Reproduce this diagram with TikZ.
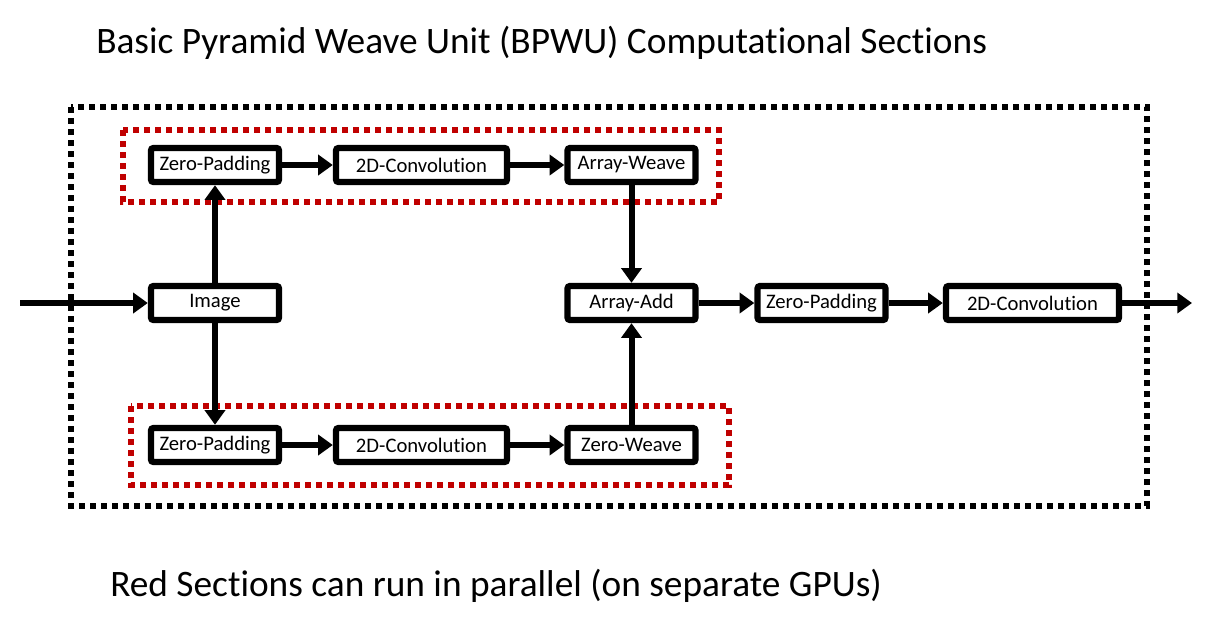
\documentclass[tikz,border=0pt]{standalone}
\usepackage{fontspec}
\setmainfont[Ligatures=NoCommon]{Carlito}
\usepackage{xcolor}
\usetikzlibrary{arrows.meta,positioning}
\definecolor{secred}{HTML}{C00000}
\tikzset{
  opnode/.style={draw=black, line width=4.8pt, rounded corners=2pt, fill=white,
               minimum height=25.5pt, minimum width=#1, inner sep=0pt, font=\fontsize{15.5}{18}\selectfont},
  opnode/.default=96pt,
  flow/.style={-{Triangle[length=11pt,width=15pt]}, line width=4.5pt},
  unitbox/.style={draw=black, line width=4.5pt, dash pattern=on 4.5pt off 3.75pt},
  sectionbox/.style={draw=secred, line width=4.5pt, dash pattern=on 4.5pt off 3.75pt},
  caption/.style={anchor=base west, inner sep=0pt, font=\fontsize{28}{33}\selectfont},
}
\def\cA{215}
\def\cB{421.5}
\def\cC{631.5}
\def\cD{821.5}
\def\cE{1032.5}
\def\yT{165}
\def\yM{303}
\def\yB{445}

\begin{document}
\begin{tikzpicture}[x=0.75pt, y=-0.75pt]
  \useasboundingbox (0,0) rectangle (1210,626);
  \node[caption] (title) at (96,53) {Basic Pyramid Weave Unit (BPWU) Computational Sections};
  \node[caption] (note) at (110,596) {Red Sections can run in parallel (on separate GPUs)};
  \draw[unitbox] (71,107) rectangle (1147,506);
  \draw[sectionbox] (123,130) rectangle (719,202);
  \draw[sectionbox] (131,406) rectangle (729,485);
  \node[opnode] (img) at (\cA,\yM) {Image};
  \node[opnode] (zpt) at (\cA,\yT) {Zero-Padding};
  \node[opnode=128.25pt] (cvt) at (\cB,\yT) {2D-Convolution};
  \node[opnode] (aw) at (\cC,\yT) {Array-Weave};
  \node[opnode] (zpb) at (\cA,\yB) {Zero-Padding};
  \node[opnode=128.25pt] (cvb) at (\cB,\yB) {2D-Convolution};
  \node[opnode] (zw) at (\cC,\yB) {Zero-Weave};
  \node[opnode] (add) at (\cC,\yM) {Array-Add};
  \node[opnode] (zpo) at (\cD,\yM) {Zero-Padding};
  \node[opnode=129.75pt] (cvo) at (\cE,\yM) {2D-Convolution};
  \coordinate (in) at (20,\yM);
  \coordinate (out) at (1192,\yM);
  \draw[flow] (in) -- (img);
  \draw[flow] (img) -- (zpt);
  \draw[flow] (img) -- (zpb);
  \draw[flow] (zpt) -- (cvt);
  \draw[flow] (cvt) -- (aw);
  \draw[flow] (zpb) -- (cvb);
  \draw[flow] (cvb) -- (zw);
  \draw[flow] (aw) -- (add);
  \draw[flow] (zw) -- (add);
  \draw[flow] (add) -- (zpo);
  \draw[flow] (zpo) -- (cvo);
  \draw[flow] (cvo) -- (out);
\end{tikzpicture}
\end{document}
